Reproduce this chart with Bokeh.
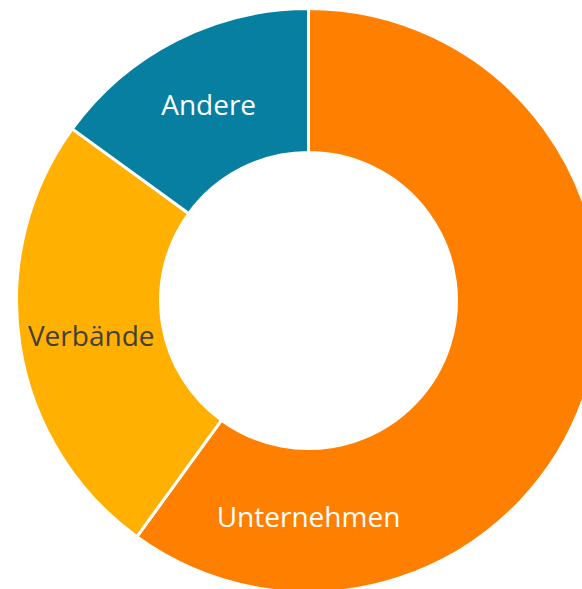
import math
from bokeh.plotting import figure
from bokeh.models import Range1d, ColumnDataSource
from bokeh.core.properties import value
from bokeh.embed import file_html
from bokeh.resources import INLINE

categories = ["Unternehmen", "Verbände", "Andere"]
shares = [60, 25, 15]
colors = ["#FF8000", "#FFB000", "#067FA0"]
label_colors = ["#FFFFFF", "#404040", "#FFFFFF"]

W, H = 582, 589
cx, cy = 308, H - 300
r_out, r_in = 292, 148

total = sum(shares)
starts, ends = [], []
a = math.pi / 2
for s in shares:
    starts.append(a)
    a -= s / total * 2 * math.pi
    ends.append(a)

# label positions: slice mid-angle, except the large slice placed at bottom
lx, ly = [], []
r_mid = (r_out + r_in) / 2
for i, (s0, s1) in enumerate(zip(starts, ends)):
    mid = (s0 + s1) / 2
    if i == 0:
        mid = -math.pi / 2
        rr = r_mid - 5
    else:
        rr = r_mid
    lx.append(cx + rr * math.cos(mid))
    ly.append(cy + rr * math.sin(mid))

src = ColumnDataSource(dict(start=starts, end=ends, color=colors,
                            lx=lx, ly=ly, label=categories, lc=label_colors))

p = figure(width=W, height=H, output_backend="svg", toolbar_location=None,
           x_range=Range1d(0, W), y_range=Range1d(0, H), min_border=0)
p.axis.visible = False
p.grid.visible = False
p.outline_line_color = None
p.background_fill_color = "white"

p.annular_wedge(x=cx, y=cy, inner_radius=r_in, outer_radius=r_out,
                start_angle="start", end_angle="end", direction="clock",
                fill_color="color", line_color="white", line_width=3, source=src)

p.text(x="lx", y="ly", text="label", text_color="lc", text_align="center",
       text_baseline="middle", text_font=value("Open Sans"),
       text_font_size="28px", source=src)

open("out.html", "w").write(file_html(p, INLINE))
